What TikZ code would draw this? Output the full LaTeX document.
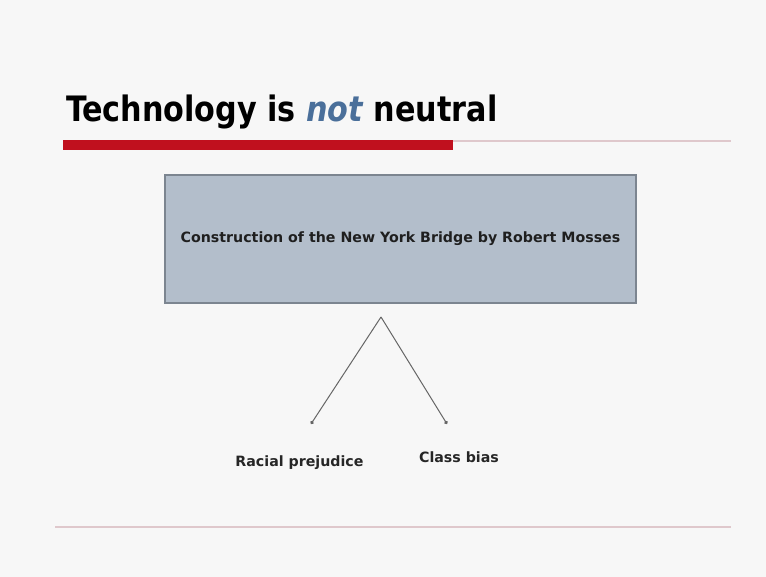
\documentclass[tikz,border=0pt]{standalone}
\usepackage{fontspec}
\setmainfont{DejaVu Sans}
\newfontfamily\condfont[FakeStretch=0.96]{DejaVu Sans Condensed}
\usetikzlibrary{arrows.meta}
\definecolor{pagebg}{HTML}{F7F7F7}
\definecolor{barred}{HTML}{C0101E}
\definecolor{rulepink}{HTML}{DFC8CC}
\definecolor{boxfill}{HTML}{B3BECB}
\definecolor{boxedge}{HTML}{7C8590}
\definecolor{notblue}{HTML}{4A6F9A}
\begin{document}
\begin{tikzpicture}[x=1pt,y=-1pt,
  title/.style={anchor=base west,inner sep=0pt,font=\condfont\bfseries\fontsize{35}{40}\selectfont},
  mainbox/.style={draw=boxedge,line width=1.2pt,fill=boxfill,minimum width=471pt,minimum height=128pt,inner sep=0pt,
    font=\bfseries\fontsize{14.2}{16}\selectfont,text=black!88},
  label/.style={inner sep=0pt,anchor=base,font=\bfseries\fontsize{14.2}{16}\selectfont,text=black!85},
  link/.style={draw=black!60,line width=1pt,-{Circle[length=3.6pt]}}]
  % page
  \fill[pagebg] (0,0) rectangle (766,577);
  \useasboundingbox (0,0) rectangle (766,577);
  % title and rules
  \node[title] (title) at (66,122) {Technology is \textcolor{notblue}{\itshape not} neutral};
  \draw[rulepink,line width=1.6pt] (63,141) -- (731,141);
  \fill[barred] (63,140) rectangle (453,150);
  \draw[rulepink,line width=1.6pt] (55,527) -- (731,527);
  % diagram
  \node[mainbox] (box) at (400.5,239) {Construction of the New York Bridge by Robert Mosses};
  \coordinate (apex) at (381,317);
  \coordinate (lend) at (311,424);
  \coordinate (rend) at (447,424);
  \draw[link] (apex) -- (lend);
  \draw[link] (apex) -- (rend);
  \node[label] (racial) at (299.5,466) {Racial prejudice};
  \node[label] (class) at (459,462) {Class bias};
\end{tikzpicture}
\end{document}
